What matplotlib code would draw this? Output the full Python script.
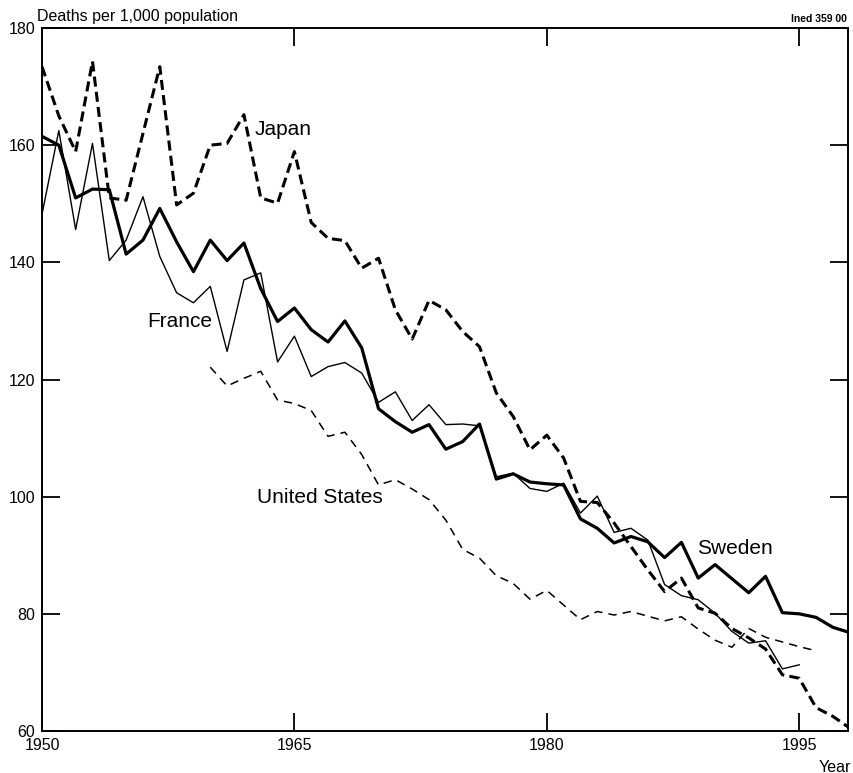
import numpy as np
import matplotlib
matplotlib.use('Agg')
import matplotlib.pyplot as plt

plt.rcParams['font.family'] = ['Liberation Sans', 'DejaVu Sans']

# Deaths per 1,000 population
sweden_years = np.arange(1950, 1999)
sweden = [161.5, 160, 151, 152.5, 152.4, 141.4, 143.8, 149.2, 143.5, 138.4,
          143.8, 140.3, 143.3, 135.5, 129.9, 132.2, 128.5, 126.4, 130, 125.4,
          115, 112.8, 111, 112.3, 108.1, 109.4, 112.4, 103, 103.9, 102.5,
          102.2, 102, 96.2, 94.6, 92.1, 93.2, 92.3, 89.6, 92.2, 86.1,
          88.4, 86, 83.6, 86.4, 80.2, 80, 79.4, 77.7, 76.8]

france_years = np.arange(1950, 1996)
france = [148.2, 162.5, 145.6, 160.3, 140.3, 143.8, 151.2, 141, 134.8, 133.1,
          135.9, 124.8, 137, 138.2, 123, 127.4, 120.5, 122.2, 122.9, 121.1,
          116.1, 117.9, 113, 115.7, 112.3, 112.4, 112.1, 103.4, 104, 101.4,
          100.9, 102.3, 97.2, 100.1, 93.9, 94.6, 92.6, 85, 83.1, 82.4,
          80.1, 77, 75, 75.4, 70.6, 71.3]

japan_years = np.arange(1950, 1999)
japan = [173.4, 165, 158.9, 174.3, 151, 150.6, 162, 173.4, 149.8, 151.8,
         160, 160.3, 165.2, 151, 150.1, 158.9, 146.8, 144.1, 143.7, 139,
         140.7, 131.9, 126.9, 133.5, 131.9, 128.2, 125.6, 117.7, 113.7, 108,
         110.5, 106.6, 99.2, 99, 95.5, 91.5, 87.5, 83.8, 86.1, 81,
         80.1, 77.5, 75.9, 74, 69.6, 69, 64, 62.5, 60.5]

us_years = np.arange(1960, 1997)
us = [122.1, 118.9, 120.2, 121.4, 116.5, 115.9, 114.7, 110.3, 111, 107.2,
      102, 102.9, 101.3, 99.5, 96, 91, 89.5, 86.5, 85.2, 82.5,
      84, 81.5, 79, 80.4, 79.8, 80.4, 79.6, 78.8, 79.5, 77.4,
      75.5, 74.3, 77.5, 76, 75.2, 74.4, 73.7]

xticks = [1950, 1965, 1980, 1995]
yticks = [60, 80, 100, 120, 140, 160, 180]

fig = plt.figure(figsize=(8.54, 7.73), dpi=100)
ax = fig.add_axes([42 / 854, 1 - 731 / 773, 806 / 854, 703 / 773])

ax.plot(japan_years, japan, color='black', lw=2.2, dashes=(3.3, 1.7))
ax.plot(us_years, us, color='black', lw=1.1, dashes=(5.5, 4))
ax.plot(france_years, france, color='black', lw=1.0)
ax.plot(sweden_years, sweden, color='black', lw=2.3)

ax.set_xlim(1950, 1997.9)
ax.set_ylim(60, 180)
ax.set_xticks(xticks)
ax.set_yticks(yticks)
ax.tick_params(direction='in', length=13, width=1.3, top=True, right=True,
               labelsize=11.5, pad=5)
for s in ax.spines.values():
    s.set_linewidth(1.4)

lab = dict(fontsize=15, ha='center', va='center')
ax.text(1964.3, 162.6, 'Japan', **lab)
ax.text(1958.2, 129.9, 'France', **lab)
ax.text(1966.5, 99.8, 'United States', **lab)
ax.text(1991.2, 91.1, 'Sweden', **lab)

fig.text(37 / 854, 1 - 16 / 773, 'Deaths per 1,000 population',
         fontsize=11.5, ha='left', va='center')
fig.text(847 / 854, 1 - 19 / 773, 'Ined 359 00', fontsize=7.5,
         fontweight='bold', ha='right', va='center')
fig.text(851 / 854, 1 - 767 / 773, 'Year', fontsize=11.5, ha='right',
         va='center')

fig.savefig('out.png', dpi=100)
